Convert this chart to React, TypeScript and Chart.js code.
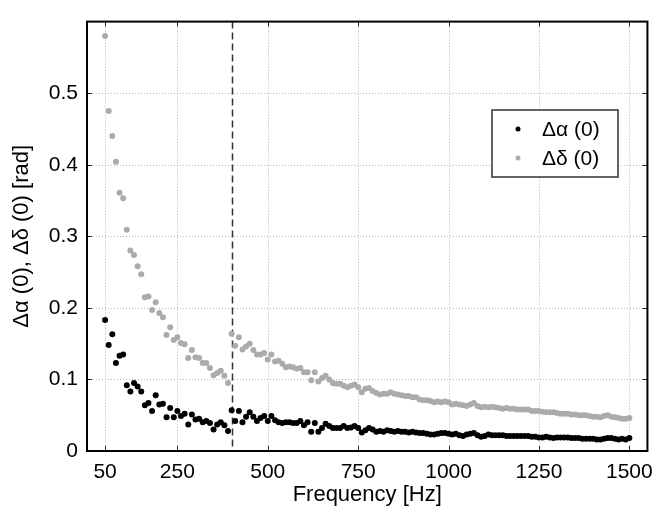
import React, { useEffect, useRef } from "react";
import { Chart, registerables } from "chart.js";

Chart.register(...registerables);

const frequencies: number[] = [
  50, 60, 70, 80, 90, 100, 110, 120, 130, 140,
  150, 160, 170, 180, 190, 200, 210, 220, 230, 240,
  250, 260, 270, 280, 290, 300, 310, 320, 330, 340,
  350, 360, 370, 380, 390, 400, 410, 420, 430, 440,
  450, 460, 470, 480, 490, 500, 510, 520, 530, 540,
  550, 560, 570, 580, 590, 600, 610, 620, 630, 640,
  650, 660, 670, 680, 690, 700, 710, 720, 730, 740,
  750, 760, 770, 780, 790, 800, 810, 820, 830, 840,
  850, 860, 870, 880, 890, 900, 910, 920, 930, 940,
  950, 960, 970, 980, 990, 1000, 1010, 1020, 1030, 1040,
  1050, 1060, 1070, 1080, 1090, 1100, 1110, 1120, 1130, 1140,
  1150, 1160, 1170, 1180, 1190, 1200, 1210, 1220, 1230, 1240,
  1250, 1260, 1270, 1280, 1290, 1300, 1310, 1320, 1330, 1340,
  1350, 1360, 1370, 1380, 1390, 1400, 1410, 1420, 1430, 1440,
  1450, 1460, 1470, 1480, 1490, 1500,
];

const deltaAlpha: number[] = [
  0.183, 0.148, 0.163, 0.123, 0.133, 0.135, 0.092, 0.083, 0.095, 0.090,
  0.083, 0.064, 0.067, 0.056, 0.078, 0.065, 0.066, 0.047, 0.060, 0.047,
  0.056, 0.049, 0.052, 0.037, 0.051, 0.044, 0.045, 0.040, 0.042, 0.039,
  0.030, 0.037, 0.040, 0.036, 0.028, 0.057, 0.042, 0.056, 0.040, 0.048,
  0.054, 0.048, 0.042, 0.046, 0.049, 0.042, 0.049, 0.043, 0.040, 0.039,
  0.040, 0.040, 0.039, 0.039, 0.042, 0.036, 0.040, 0.027, 0.039, 0.027,
  0.032, 0.038, 0.035, 0.032, 0.032, 0.032, 0.035, 0.032, 0.033, 0.035,
  0.032, 0.026, 0.029, 0.032, 0.030, 0.027, 0.028, 0.027, 0.029, 0.028,
  0.027, 0.028, 0.027, 0.027, 0.026, 0.027, 0.026, 0.025, 0.025, 0.024,
  0.023, 0.023, 0.024, 0.025, 0.025, 0.024, 0.023, 0.024, 0.022, 0.021,
  0.023, 0.024, 0.025, 0.022, 0.020, 0.021, 0.023, 0.022, 0.022, 0.022,
  0.022, 0.021, 0.021, 0.021, 0.021, 0.021, 0.021, 0.021, 0.020, 0.020,
  0.019, 0.019, 0.020, 0.019, 0.018, 0.019, 0.019, 0.019, 0.019, 0.018,
  0.018, 0.018, 0.017, 0.017, 0.017, 0.017, 0.016, 0.016, 0.017, 0.018,
  0.018, 0.017, 0.016, 0.017, 0.016, 0.018,
];

const deltaDelta: number[] = [
  0.580, 0.475, 0.440, 0.404, 0.361, 0.353, 0.309, 0.280, 0.274, 0.258,
  0.247, 0.215, 0.216, 0.197, 0.208, 0.193, 0.187, 0.162, 0.173, 0.155,
  0.159, 0.151, 0.149, 0.130, 0.141, 0.131, 0.130, 0.123, 0.123, 0.116,
  0.106, 0.109, 0.112, 0.105, 0.095, 0.164, 0.147, 0.159, 0.142, 0.146,
  0.150, 0.141, 0.135, 0.135, 0.137, 0.128, 0.135, 0.125, 0.126, 0.122,
  0.117, 0.118, 0.117, 0.115, 0.116, 0.110, 0.110, 0.099, 0.110, 0.097,
  0.102, 0.105, 0.100, 0.095, 0.094, 0.094, 0.091, 0.089, 0.091, 0.093,
  0.089, 0.082, 0.087, 0.088, 0.084, 0.081, 0.079, 0.080, 0.080, 0.082,
  0.080, 0.079, 0.078, 0.077, 0.077, 0.075, 0.075, 0.072, 0.071, 0.071,
  0.070, 0.068, 0.069, 0.068, 0.069, 0.068, 0.065, 0.066, 0.065, 0.064,
  0.063, 0.065, 0.067, 0.063, 0.061, 0.062, 0.061, 0.062, 0.061, 0.060,
  0.059, 0.060, 0.059, 0.059, 0.058, 0.058, 0.058, 0.058, 0.056, 0.056,
  0.056, 0.055, 0.054, 0.054, 0.054, 0.053, 0.052, 0.052, 0.052, 0.051,
  0.051, 0.050, 0.050, 0.050, 0.049, 0.048, 0.048, 0.047, 0.049, 0.050,
  0.048, 0.047, 0.046, 0.045, 0.045, 0.046,
];

const xTicks: number[] = [50, 250, 500, 750, 1000, 1250, 1500];
const yTicks: number[] = [0, 0.1, 0.2, 0.3, 0.4, 0.5];
const markerFrequency = 400;

const seriesLabels = ["Δα (0)", "Δδ (0)"];
const seriesColors = ["#000000", "#ababab"];
const xTitle = "Frequency [Hz]";
const yTitle = "Δα (0), Δδ (0) [rad]";

const FONT = "'Liberation Sans', Arial, Helvetica, sans-serif";

const decorPlugin = {
  id: "decor",
  beforeDatasetsDraw(chart: any) {
    const { ctx, chartArea: a, scales } = chart;
    const xs = scales.x;
    const ys = scales.y;
    ctx.save();
    ctx.strokeStyle = "#b4b4b4";
    ctx.lineWidth = 1;
    ctx.setLineDash([1, 2]);
    for (const t of xTicks) {
      const px = Math.round(xs.getPixelForValue(t)) + 0.5;
      ctx.beginPath();
      ctx.moveTo(px, a.top);
      ctx.lineTo(px, a.bottom);
      ctx.stroke();
    }
    for (const t of yTicks) {
      if (t === 0) continue;
      const py = Math.round(ys.getPixelForValue(t)) + 0.5;
      ctx.beginPath();
      ctx.moveTo(a.left, py);
      ctx.lineTo(a.right, py);
      ctx.stroke();
    }
    // dashed marker line
    ctx.strokeStyle = "#333333";
    ctx.lineWidth = 1.5;
    ctx.setLineDash([7, 4]);
    const mx = Math.round(xs.getPixelForValue(markerFrequency)) + 0.5;
    ctx.beginPath();
    ctx.moveTo(mx, a.top);
    ctx.lineTo(mx, a.bottom);
    ctx.stroke();
    ctx.restore();
  },
  afterDatasetsDraw(chart: any) {
    const { ctx, chartArea: a, scales } = chart;
    const xs = scales.x;
    const ys = scales.y;
    ctx.save();
    ctx.setLineDash([]);
    // inward tick marks
    ctx.strokeStyle = "#222222";
    ctx.lineWidth = 1;
    const tl = 5;
    for (const t of xTicks) {
      const px = Math.round(xs.getPixelForValue(t)) + 0.5;
      ctx.beginPath();
      ctx.moveTo(px, a.bottom);
      ctx.lineTo(px, a.bottom - tl);
      ctx.moveTo(px, a.top);
      ctx.lineTo(px, a.top + tl);
      ctx.stroke();
    }
    for (const t of yTicks) {
      const py = Math.round(ys.getPixelForValue(t)) + 0.5;
      ctx.beginPath();
      ctx.moveTo(a.left, py);
      ctx.lineTo(a.left + tl, py);
      ctx.moveTo(a.right, py);
      ctx.lineTo(a.right - tl, py);
      ctx.stroke();
    }
    // frame
    ctx.strokeStyle = "#000000";
    ctx.lineWidth = 2;
    ctx.strokeRect(a.left, a.top, a.right - a.left, a.bottom - a.top);

    // legend box
    const lx = 492;
    const ly = 110;
    const lw = 126;
    const lh = 67;
    ctx.fillStyle = "#ffffff";
    ctx.fillRect(lx, ly, lw, lh);
    ctx.strokeStyle = "#333333";
    ctx.lineWidth = 1.5;
    ctx.strokeRect(lx, ly, lw, lh);
    ctx.font = `21px ${FONT}`;
    ctx.textBaseline = "middle";
    ctx.textAlign = "left";
    for (let i = 0; i < seriesLabels.length; i++) {
      const cy = ly + 19 + i * 29;
      ctx.fillStyle = seriesColors[i];
      ctx.beginPath();
      ctx.arc(lx + 26, cy, 2.5, 0, Math.PI * 2);
      ctx.fill();
      ctx.fillStyle = "#000000";
      ctx.fillText(seriesLabels[i], lx + 50, cy + 1);
    }
    ctx.restore();
  },
};

export default function App() {
  const canvasRef = useRef<HTMLCanvasElement | null>(null);

  useEffect(() => {
    const canvas = canvasRef.current;
    if (!canvas) return;
    const alphaPoints = frequencies.map((f, i) => ({ x: f, y: deltaAlpha[i] }));
    const deltaPoints = frequencies.map((f, i) => ({ x: f, y: deltaDelta[i] }));
    const chart = new Chart(canvas, {
      type: "scatter",
      data: {
        datasets: [
          {
            label: seriesLabels[1],
            data: deltaPoints,
            backgroundColor: seriesColors[1],
            borderColor: seriesColors[1],
            borderWidth: 0,
            pointRadius: 3,
          },
          {
            label: seriesLabels[0],
            data: alphaPoints,
            backgroundColor: seriesColors[0],
            borderColor: seriesColors[0],
            borderWidth: 0,
            pointRadius: 3,
          },
        ],
      },
      options: {
        animation: false,
        responsive: false,
        maintainAspectRatio: false,
        layout: { padding: { top: 7, right: 9, left: 0, bottom: 0 } },
        plugins: {
          legend: { display: false },
          tooltip: { enabled: false },
        },
        scales: {
          x: {
            type: "linear",
            min: 0,
            max: 1550,
            grid: { display: false, drawTicks: false },
            border: { display: false },
            afterBuildTicks: (scale: any) => {
              scale.ticks = xTicks.map((v) => ({ value: v }));
            },
            afterFit: (scale: any) => {
              scale.height = 66;
            },
            ticks: {
              color: "#000",
              padding: 9,
              maxRotation: 0,
              autoSkip: false,
              font: { family: FONT, size: 21 },
              callback: (v: any) => String(v),
            },
            title: {
              display: true,
              text: xTitle,
              color: "#000",
              font: { family: FONT, size: 22 },
              padding: { top: 0, bottom: 9 },
            },
          },
          y: {
            type: "linear",
            min: 0,
            max: 0.6,
            grid: { display: false, drawTicks: false },
            border: { display: false },
            afterBuildTicks: (scale: any) => {
              scale.ticks = yTicks.map((v) => ({ value: v }));
            },
            afterFit: (scale: any) => {
              scale.width = 87;
            },
            ticks: {
              color: "#000",
              padding: 9,
              autoSkip: false,
              font: { family: FONT, size: 21 },
              callback: (v: any) => (v === 0 ? "0" : Number(v).toFixed(1)),
            },
            title: {
              display: true,
              text: yTitle,
              color: "#000",
              font: { family: FONT, size: 22 },
              padding: { top: 9, bottom: 0 },
            },
          },
        },
      },
      plugins: [decorPlugin],
    });
    return () => chart.destroy();
  }, []);

  return (
    <div style={{ position: "absolute", left: 0, top: 0, width: 662, height: 517, background: "#fff" }}>
      <canvas ref={canvasRef} width={662} height={517} />
    </div>
  );
}
